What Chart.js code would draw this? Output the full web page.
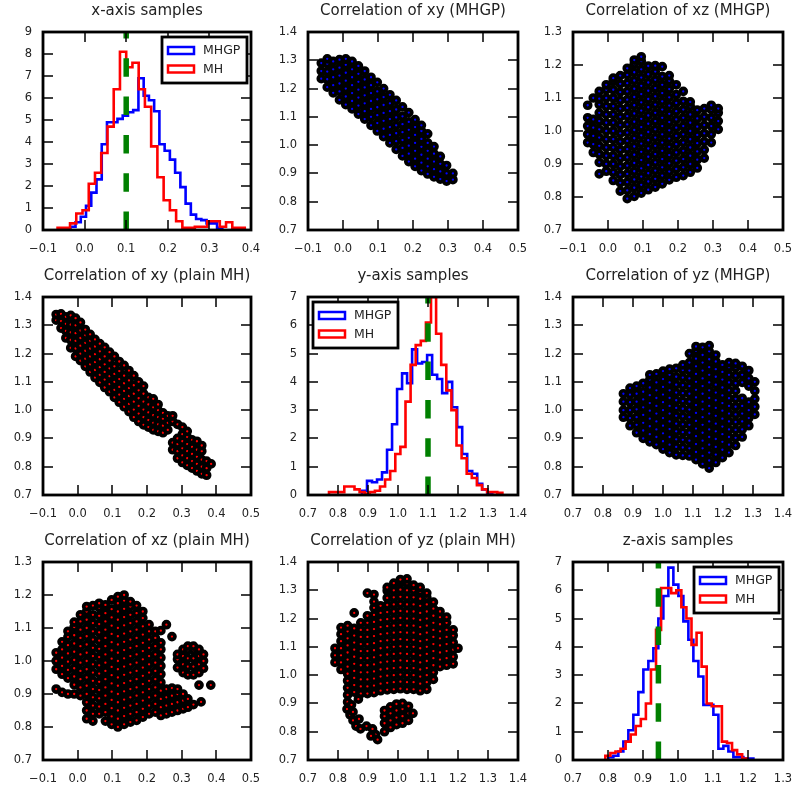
<!DOCTYPE html>
<html><head><meta charset="utf-8">
<script src="https://cdn.jsdelivr.net/npm/chart.js@4.4.0/dist/chart.umd.min.js"></script>
<style>html,body{margin:0;padding:0;background:#fff;width:792px;height:793px;overflow:hidden;position:relative}.p{position:absolute}</style>
</head><body>
<script>
// ---------------- tick values ----------------
const ticksXHist = [-0.1, 0.0, 0.1, 0.2, 0.3, 0.4];
const ticksXVal = [-0.1, 0.0, 0.1, 0.2, 0.3, 0.4, 0.5];
const ticksYVal = [0.7, 0.8, 0.9, 1.0, 1.1, 1.2, 1.3, 1.4];
const ticksZVal = [0.7, 0.8, 0.9, 1.0, 1.1, 1.2, 1.3];
const ticksCount9 = [0, 1, 2, 3, 4, 5, 6, 7, 8, 9];
const ticksCount7 = [0, 1, 2, 3, 4, 5, 6, 7];

// ---------------- histograms (bin start, bin width, densities) ----------------
const xHistMHGP = [-0.047, 0.0126];
const xValsMHGP = [0.08,0.15,0.35,0.6,1.1,1.7,2.3,3.9,4.9,4.9,5.05,5.2,5.35,5.45,6.9,6.1,5.9,5.4,3.9,3.6,3.2,2.6,1.95,1.2,0.7,0.5,0.45,0.3,0.3,0.1];
const xHistMH = [-0.065, 0.015];
const xValsMH = [0.1,0.1,0.3,0.75,0.9,2.1,2.6,3.5,4.7,6.4,8.1,7.4,7.6,6.4,5.6,3.8,2.4,1.35,0.9,0.4,0.1,0.1,0.15,0.15,0.4,0.4,0.15,0.35,0.1,0.1];
const yHistMHGP = [0.88, 0.0167];
const yValsMHGP = [0.15,0.5,0.45,0.55,0.8,1.6,2.5,3.75,4.3,3.95,5.15,4.65,4.7,4.95,4.25,4.1,3.6,4.0,3.1,2.4,1.45,0.85,0.75,0.4,0.2,0.05];
const yHistMH = [0.77, 0.017];
const yValsMH = [0.1,0.1,0.1,0.3,0.3,0.2,0.1,0.05,0.1,0.15,0.3,0.55,0.85,1.45,1.7,3.3,4.6,5.3,5.45,6.1,7.0,5.7,4.6,3.7,3.0,1.75,1.3,0.75,0.6,0.35,0.2,0.1,0.1,0.08];
const zHistMHGP = [0.801, 0.01429];
const zValsMHGP = [0.1,0.15,0.3,0.65,1.05,1.6,2.4,3.2,3.5,3.95,5.0,5.8,6.8,6.2,5.8,4.9,4.25,3.5,2.95,1.95,1.95,1.6,0.4,0.5,0.3,0.1,0.1,0.05,0.05];
const zHistMH = [0.7924, 0.01448];
const zValsMH = [0.15,0.25,0.3,0.4,0.65,0.9,1.2,1.45,2.0,3.2,4.6,6.08,6.08,5.9,6.0,5.4,5.0,4.07,4.5,3.3,2.0,1.9,1.9,0.65,0.6,0.35,0.2,0.05];
const truthX = 0.1, truthY = 1.1, truthZ = 0.944;

// ---------------- scatter samples: [x, y1, y2, ...] columns ----------------
const xyMHGP = [
 [-0.062,1.235,1.262,1.29],
 [-0.045,1.205,1.233,1.26,1.288,1.305],
 [-0.028,1.185,1.212,1.24,1.268,1.296],
 [-0.01,1.16,1.19,1.218,1.246,1.274,1.302],
 [0.008,1.143,1.172,1.2,1.228,1.256,1.284,1.305],
 [0.026,1.128,1.156,1.184,1.212,1.24,1.268,1.296],
 [0.044,1.11,1.14,1.168,1.196,1.224,1.252,1.28],
 [0.062,1.092,1.12,1.148,1.176,1.204,1.232,1.262],
 [0.08,1.07,1.1,1.128,1.156,1.184,1.212,1.24],
 [0.098,1.05,1.078,1.106,1.134,1.162,1.19,1.222],
 [0.116,1.03,1.058,1.086,1.114,1.142,1.17,1.2],
 [0.134,1.008,1.036,1.064,1.092,1.12,1.148,1.178],
 [0.152,0.985,1.014,1.042,1.07,1.098,1.126,1.158],
 [0.17,0.962,0.99,1.018,1.046,1.074,1.102,1.135],
 [0.188,0.942,0.97,0.998,1.026,1.054,1.082,1.115],
 [0.206,0.925,0.952,0.98,1.008,1.036,1.064,1.09],
 [0.224,0.91,0.938,0.966,0.994,1.022,1.05,1.07],
 [0.242,0.898,0.925,0.952,0.98,1.008,1.04],
 [0.26,0.888,0.915,0.942,0.97,0.995],
 [0.278,0.88,0.907,0.934,0.96],
 [0.296,0.873,0.9,0.928],
 [0.314,0.878,0.9]
];
const xzMHGP = [
 [-0.058,0.965,0.99,1.015,1.04,1.078],
 [-0.042,0.935,0.96,0.985,1.01,1.035,1.1],
 [-0.025,0.87,0.905,0.93,0.955,0.98,1.005,1.03,1.055,1.08,1.098,1.12],
 [-0.005,0.878,0.9,0.925,0.95,0.975,1.0,1.025,1.05,1.075,1.1,1.125,1.14],
 [0.015,0.85,0.875,0.9,0.925,0.95,0.975,1.0,1.025,1.05,1.075,1.1,1.125,1.15,1.16],
 [0.035,0.818,0.843,0.868,0.893,0.918,0.943,0.968,0.993,1.018,1.043,1.068,1.093,1.118,1.143,1.168],
 [0.055,0.795,0.82,0.845,0.87,0.895,0.92,0.945,0.97,0.995,1.02,1.045,1.07,1.095,1.12,1.145,1.17,1.19],
 [0.075,0.802,0.828,0.853,0.878,0.903,0.928,0.953,0.978,1.003,1.028,1.053,1.078,1.103,1.128,1.153,1.178,1.203,1.215],
 [0.095,0.812,0.837,0.862,0.887,0.912,0.937,0.962,0.987,1.012,1.037,1.062,1.087,1.112,1.137,1.162,1.187,1.212,1.225],
 [0.115,0.822,0.847,0.872,0.897,0.922,0.947,0.972,0.997,1.022,1.047,1.072,1.097,1.122,1.147,1.172,1.197],
 [0.135,0.83,0.855,0.88,0.905,0.93,0.955,0.98,1.005,1.03,1.055,1.08,1.105,1.13,1.155,1.18,1.198],
 [0.155,0.84,0.865,0.89,0.915,0.94,0.965,0.99,1.015,1.04,1.065,1.09,1.115,1.14,1.165,1.195],
 [0.175,0.852,0.877,0.902,0.927,0.952,0.977,1.002,1.027,1.052,1.077,1.102,1.127,1.152,1.168],
 [0.195,0.86,0.885,0.91,0.935,0.96,0.985,1.01,1.035,1.06,1.085,1.11,1.14],
 [0.215,0.865,0.89,0.915,0.94,0.965,0.99,1.015,1.04,1.065,1.09,1.12],
 [0.235,0.875,0.9,0.925,0.95,0.975,1.0,1.025,1.05,1.075,1.088],
 [0.255,0.888,0.913,0.938,0.963,0.988,1.013,1.038,1.063],
 [0.275,0.918,0.943,0.968,0.993,1.018,1.043,1.068],
 [0.295,0.965,0.99,1.015,1.04,1.065,1.078],
 [0.315,1.005,1.03,1.055,1.068]
];
const xyMH = [
 [-0.062,1.318,1.338],
 [-0.048,1.29,1.315,1.34],
 [-0.034,1.255,1.28,1.305,1.33],
 [-0.02,1.22,1.248,1.275,1.302,1.335],
 [-0.006,1.19,1.218,1.245,1.272,1.3,1.325],
 [0.008,1.175,1.2,1.228,1.255,1.282,1.31],
 [0.022,1.155,1.182,1.21,1.238,1.265,1.285],
 [0.036,1.135,1.162,1.19,1.218,1.245,1.268],
 [0.05,1.115,1.142,1.17,1.198,1.225,1.25],
 [0.064,1.098,1.125,1.152,1.18,1.208,1.235],
 [0.078,1.08,1.108,1.135,1.162,1.19,1.222],
 [0.092,1.065,1.092,1.12,1.148,1.175,1.205],
 [0.106,1.045,1.072,1.1,1.128,1.155,1.19],
 [0.12,1.028,1.055,1.082,1.11,1.138,1.172],
 [0.134,1.012,1.04,1.068,1.095,1.122,1.158],
 [0.148,0.995,1.022,1.05,1.078,1.105,1.14],
 [0.162,0.975,1.002,1.03,1.058,1.088,1.122],
 [0.176,0.96,0.988,1.015,1.042,1.07,1.1],
 [0.19,0.948,0.975,1.002,1.03,1.058,1.085],
 [0.204,0.94,0.965,0.992,1.02,1.045],
 [0.218,0.93,0.955,0.982,1.01,1.04],
 [0.232,0.925,0.95,0.975,1.0,1.02],
 [0.246,0.92,0.945,0.97,0.99],
 [0.26,0.93,0.955,0.98],
 [0.274,0.86,0.885,0.96,0.98],
 [0.288,0.83,0.855,0.88,0.9,0.95],
 [0.302,0.815,0.84,0.865,0.89,0.915,0.94],
 [0.316,0.805,0.83,0.855,0.88,0.905,0.925],
 [0.33,0.795,0.82,0.845,0.87,0.895],
 [0.344,0.785,0.81,0.835,0.86,0.89],
 [0.358,0.775,0.8,0.825,0.855,0.875],
 [0.372,0.77,0.795,0.82],
 [0.385,0.81]
];
const yzMHGP = [
 [0.868,0.975,1.0,1.03,1.058],
 [0.89,0.945,0.972,1.0,1.028,1.055,1.078],
 [0.912,0.92,0.948,0.975,1.003,1.03,1.058,1.085],
 [0.934,0.9,0.928,0.955,0.983,1.01,1.038,1.065,1.095],
 [0.956,0.888,0.915,0.943,0.97,0.998,1.025,1.053,1.08,1.108,1.125],
 [0.978,0.878,0.905,0.932,0.96,0.988,1.015,1.043,1.07,1.098,1.128],
 [1.0,0.862,0.89,0.918,0.945,0.972,1.0,1.028,1.055,1.082,1.11,1.138],
 [1.022,0.85,0.878,0.905,0.933,0.96,0.988,1.015,1.043,1.07,1.098,1.125,1.145],
 [1.044,0.842,0.87,0.897,0.925,0.952,0.98,1.008,1.035,1.062,1.09,1.118,1.148],
 [1.066,0.84,0.868,0.895,0.922,0.95,0.978,1.005,1.032,1.06,1.088,1.115,1.142,1.16],
 [1.088,0.838,0.865,0.892,0.92,0.948,0.975,1.002,1.03,1.058,1.085,1.112,1.14,1.168,1.2],
 [1.11,0.825,0.852,0.88,0.908,0.935,0.962,0.99,1.018,1.045,1.072,1.1,1.128,1.155,1.182,1.21,1.225],
 [1.132,0.81,0.838,0.865,0.892,0.92,0.948,0.975,1.003,1.03,1.058,1.085,1.112,1.14,1.168,1.195,1.222],
 [1.154,0.795,0.822,0.85,0.878,0.905,0.932,0.96,0.988,1.015,1.043,1.07,1.098,1.125,1.152,1.18,1.208,1.228],
 [1.176,0.815,0.843,0.87,0.898,0.925,0.952,0.98,1.008,1.035,1.062,1.09,1.118,1.145,1.172,1.195],
 [1.198,0.832,0.86,0.888,0.915,0.942,0.97,0.998,1.025,1.052,1.08,1.108,1.135,1.16],
 [1.22,0.85,0.878,0.905,0.932,0.96,0.988,1.015,1.042,1.07,1.098,1.125,1.152,1.168],
 [1.242,0.875,0.902,0.93,0.958,0.985,1.012,1.04,1.068,1.095,1.122,1.15,1.165],
 [1.264,0.905,0.932,0.96,0.988,1.015,1.042,1.098,1.125,1.155],
 [1.286,0.945,0.972,1.0,1.028,1.085,1.112,1.14],
 [1.306,0.985,1.012,1.04,1.068,1.1]
];
const xzMH = [
 [-0.062,0.915,0.975,1.0,1.025],
 [-0.045,0.905,0.96,0.985,1.01,1.035,1.058],
 [-0.028,0.9,0.948,0.973,0.998,1.023,1.048,1.073,1.09],
 [-0.01,0.9,0.928,0.953,0.978,1.003,1.028,1.053,1.078,1.103,1.118],
 [0.008,0.895,0.92,0.945,0.97,0.995,1.02,1.045,1.07,1.095,1.12,1.14],
 [0.026,0.825,0.85,0.875,0.9,0.925,0.95,0.975,1.0,1.025,1.05,1.075,1.1,1.125,1.15,1.165],
 [0.044,0.818,0.84,0.865,0.89,0.915,0.94,0.965,0.99,1.015,1.04,1.065,1.09,1.115,1.14,1.168],
 [0.062,0.84,0.862,0.887,0.912,0.937,0.962,0.987,1.012,1.037,1.062,1.087,1.112,1.137,1.162,1.175],
 [0.08,0.818,0.845,0.87,0.895,0.92,0.945,0.97,0.995,1.02,1.045,1.07,1.095,1.12,1.145,1.17],
 [0.098,0.808,0.832,0.857,0.882,0.907,0.932,0.957,0.982,1.007,1.032,1.057,1.082,1.107,1.132,1.157,1.185],
 [0.116,0.8,0.825,0.85,0.875,0.9,0.925,0.95,0.975,1.0,1.025,1.05,1.075,1.1,1.125,1.15,1.175,1.195],
 [0.134,0.808,0.833,0.858,0.883,0.908,0.933,0.958,0.983,1.008,1.033,1.058,1.083,1.108,1.133,1.158,1.183,1.2],
 [0.152,0.815,0.84,0.865,0.89,0.915,0.94,0.965,0.99,1.015,1.04,1.065,1.09,1.115,1.14,1.165,1.18],
 [0.17,0.82,0.845,0.87,0.895,0.92,0.945,0.97,0.995,1.02,1.045,1.07,1.095,1.12,1.145,1.168],
 [0.188,0.83,0.855,0.88,0.905,0.93,0.955,0.98,1.005,1.03,1.055,1.08,1.105,1.13,1.15],
 [0.206,0.84,0.865,0.89,0.915,0.94,0.965,0.99,1.015,1.04,1.065,1.09,1.11],
 [0.224,0.845,0.87,0.895,0.92,0.945,0.97,0.995,1.02,1.045,1.07,1.09],
 [0.24,0.835,0.86,0.885,0.91,0.935,0.96,0.985,1.01,1.035,1.055,1.092],
 [0.256,0.84,0.865,0.89,0.915,1.11],
 [0.272,0.845,0.87,0.895,0.918,1.074],
 [0.288,0.85,0.875,0.9,0.915,0.98,1.005,1.02],
 [0.304,0.855,0.88,0.9,0.965,0.99,1.015,1.035],
 [0.318,0.86,0.885,0.958,0.983,1.008,1.033,1.045],
 [0.334,0.868,0.958,0.983,1.008,1.033,1.045],
 [0.35,0.927,0.965,0.99,1.015,1.035],
 [0.356,0.876],
 [0.363,0.978,1.0,1.02],
 [0.384,0.927]
];
const yzMH = [
 [0.79,1.045,1.07,1.095],
 [0.81,1.02,1.045,1.07,1.095,1.12,1.145,1.168],
 [0.832,0.905,0.93,0.955,0.98,1.005,1.03,1.055,1.08,1.105,1.13,1.155,1.175],
 [0.854,0.94,0.965,0.99,1.015,1.04,1.065,1.09,1.115,1.14,1.165,1.22],
 [0.876,0.935,0.96,0.985,1.01,1.035,1.06,1.085,1.11,1.135,1.16,1.185],
 [0.898,0.935,0.96,0.985,1.01,1.035,1.06,1.085,1.11,1.135,1.16,1.185,1.21,1.29],
 [0.92,0.938,0.963,0.988,1.013,1.038,1.063,1.088,1.113,1.138,1.163,1.188,1.213,1.238,1.26,1.285],
 [0.942,0.945,0.97,0.995,1.02,1.045,1.07,1.095,1.12,1.145,1.17,1.195,1.22,1.245],
 [0.964,0.948,0.973,0.998,1.023,1.048,1.073,1.098,1.123,1.148,1.173,1.198,1.223,1.248,1.273,1.298,1.31],
 [0.986,0.95,0.975,1.0,1.025,1.05,1.075,1.1,1.125,1.15,1.175,1.2,1.225,1.25,1.275,1.3,1.325],
 [1.008,0.952,0.977,1.002,1.027,1.052,1.077,1.102,1.127,1.152,1.177,1.202,1.227,1.252,1.277,1.302,1.327,1.338],
 [1.03,0.95,0.975,1.0,1.025,1.05,1.075,1.1,1.125,1.15,1.175,1.2,1.225,1.25,1.275,1.3,1.325,1.34],
 [1.052,0.95,0.975,1.0,1.025,1.05,1.075,1.1,1.125,1.15,1.175,1.2,1.225,1.25,1.275,1.3,1.318],
 [1.074,0.945,0.97,0.995,1.02,1.045,1.07,1.095,1.12,1.145,1.17,1.195,1.22,1.245,1.27,1.295,1.31],
 [1.096,0.95,0.975,1.0,1.025,1.05,1.075,1.1,1.125,1.15,1.175,1.2,1.225,1.25,1.275,1.29],
 [1.118,0.985,1.01,1.035,1.06,1.085,1.11,1.135,1.16,1.185,1.21,1.235,1.258],
 [1.14,1.03,1.055,1.08,1.105,1.13,1.155,1.18,1.205,1.225],
 [1.162,1.035,1.06,1.085,1.11,1.135,1.16,1.185,1.205],
 [1.184,1.04,1.065,1.09,1.115,1.14,1.16],
 [1.2,1.095],
 [0.83,0.88],[0.84,0.86],[0.85,0.84],[0.86,0.82],[0.875,0.81],[0.895,0.82],[0.87,0.845],[0.85,0.87],[0.845,0.895],[0.868,0.915],
 [0.915,0.81],[0.925,0.79],[0.932,0.772],[0.91,0.785],
 [0.955,0.8,0.83,0.855,0.875],
 [0.975,0.815,0.84,0.865,0.888],
 [0.995,0.825,0.85,0.875,0.898],
 [1.015,0.83,0.855,0.88,0.9],
 [1.035,0.84,0.865,0.89],
 [1.05,0.865]
];

// ---------------- layout ----------------
const COLS = [[43,251],[308,518],[573,783]];
const ROWS = [[32,230],[297,495],[562,760]];
const PADL = 43, PADT = 32, PADR = 24, PADB = 30;
const BLUE = '#0000ff', RED = '#ff0000', GREEN = '#008000', TXT = '#222';
const FONT = '"DejaVu Sans", "Bitstream Vera Sans", sans-serif';

function fmt(decimals) {
  return v => { const s = Number(v).toFixed(decimals); return s.replace('-', '\u2212'); };
}
function cols2pts(cols) {
  const out = [];
  cols.forEach(c => { for (let i = 1; i < c.length; i++) out.push({x: c[0], y: c[i]}); });
  return out;
}
function histPts(spec, vals) {
  const [s, w] = spec;
  const pts = [{x: s, y: 0}];
  vals.forEach((v, i) => pts.push({x: s + i * w, y: v}));
  pts.push({x: s + vals.length * w, y: 0});
  return pts;
}

const framePlugin = {
  id: 'frame',
  afterDatasetsDraw(chart, args, opts) {
    const {ctx, chartArea: a, scales} = chart;
    ctx.save();
    ctx.strokeStyle = '#000';
    ctx.lineWidth = 1.5;
    ctx.beginPath();
    scales.x.ticks.forEach(t => {
      const px = Math.round(scales.x.getPixelForValue(t.value));
      ctx.moveTo(px, a.bottom); ctx.lineTo(px, a.bottom - 10);
      ctx.moveTo(px, a.top); ctx.lineTo(px, a.top + 10);
    });
    scales.y.ticks.forEach(t => {
      const py = Math.round(scales.y.getPixelForValue(t.value));
      ctx.moveTo(a.left, py); ctx.lineTo(a.left + 10, py);
      ctx.moveTo(a.right, py); ctx.lineTo(a.right - 10, py);
    });
    ctx.stroke();
    ctx.lineWidth = 2.8;
    ctx.strokeRect(a.left, a.top, a.right - a.left, a.bottom - a.top);
    ctx.restore();
  },
  afterDraw(chart, args, opts) {
    const {ctx, chartArea: a} = chart;
    ctx.save();
    ctx.fillStyle = TXT;
    ctx.font = '15px ' + FONT;
    ctx.textAlign = 'center';
    ctx.textBaseline = 'middle';
    ctx.fillText(opts.title, (a.left + a.right) / 2, 11);
    if (opts.legend) {
      const w = 85, h = 46;
      const bx = opts.legend === 'left' ? a.left + 5 : a.right - 4 - w;
      const by = a.top + 5;
      ctx.fillStyle = '#fff';
      ctx.fillRect(bx, by, w, h);
      ctx.lineWidth = 2.8;
      ctx.strokeStyle = '#000';
      ctx.strokeRect(bx, by, w, h);
      const items = [['MHGP', BLUE, 13.5], ['MH', RED, 32]];
      ctx.font = '12.5px ' + FONT;
      ctx.textAlign = 'left';
      items.forEach(([lab, col, dy]) => {
        ctx.strokeStyle = col;
        ctx.lineWidth = 2.5;
        ctx.strokeRect(bx + 6, by + dy - 3.5, 26, 7);
        ctx.fillStyle = TXT;
        ctx.fillText(lab, bx + 41, by + dy + 0.5);
      });
    }
    ctx.restore();
  }
};

function axis(min, max, ticks, decimals, isX) {
  return {
    type: 'linear', position: isX ? 'bottom' : 'left', min, max,
    grid: {display: false, drawTicks: false}, border: {display: false},
    afterBuildTicks: s => { s.ticks = ticks.map(v => ({value: v})); },
    afterFit: s => { if (isX) s.height = PADB; else s.width = PADL; },
    ticks: {
      autoSkip: false, maxRotation: 0, minRotation: 0, padding: isX ? 12 : 11,
      color: TXT, font: {family: FONT, size: 11.5},
      callback: fmt(decimals)
    }
  };
}

function panel(row, col, title, type, datasets, xr, yr, legend) {
  const [L, R] = COLS[col], [T, B] = ROWS[row];
  const W = R - L + PADL + PADR, H = B - T + PADT + PADB;
  const div = document.createElement('div');
  div.className = 'p';
  div.style.left = (L - PADL) + 'px'; div.style.top = (T - PADT) + 'px';
  div.style.width = W + 'px'; div.style.height = H + 'px';
  const cv = document.createElement('canvas');
  cv.width = W; cv.height = H; cv.style.width = W + 'px'; cv.style.height = H + 'px';
  div.appendChild(cv); document.body.appendChild(div);
  new Chart(cv, {
    type,
    data: {datasets},
    options: {
      responsive: false, animation: false, devicePixelRatio: 1,
      layout: {padding: {left: 0, top: PADT, right: PADR, bottom: 0}},
      scales: {x: axis(xr[0], xr[1], xr[2], xr[3], true), y: axis(yr[0], yr[1], yr[2], yr[3], false)},
      plugins: {legend: {display: false}, tooltip: {enabled: false}, title: {display: false},
                frame: {title, legend}},
      events: []
    },
    plugins: [framePlugin]
  });
}

function histSets(specGP, valsGP, specMH, valsMH, truth, ymax) {
  const base = {stepped: 'before', pointRadius: 0, fill: false, borderWidth: 2.6, borderJoinStyle: 'miter', tension: 0};
  return [
    Object.assign({label: 'MHGP', data: histPts(specGP, valsGP), borderColor: BLUE, order: 3}, base),
    Object.assign({label: 'MH', data: histPts(specMH, valsMH), borderColor: RED, order: 2}, base),
    {label: 'truth', data: [{x: truth, y: 0}, {x: truth, y: ymax}], borderColor: GREEN, borderWidth: 5.5,
     borderDash: [18.5, 19.8], borderCapStyle: 'butt', pointRadius: 0, fill: false, order: 1}
  ];
}
function scatterSet(cols, color) {
  return [{data: cols2pts(cols), backgroundColor: color, borderColor: '#000', pointRadius: 3.0, borderWidth: 3.7, pointHoverRadius: 3.0}];
}

const XR = [-0.1, 0.5, ticksXVal, 1];
const YR = [0.7, 1.4, ticksYVal, 1];
const ZR = [0.7, 1.3, ticksZVal, 1];

panel(0, 0, 'x-axis samples', 'line', histSets(xHistMHGP, xValsMHGP, xHistMH, xValsMH, truthX, 9),
      [-0.1, 0.4, ticksXHist, 1], [0, 9, ticksCount9, 0], 'right');
panel(0, 1, 'Correlation of xy (MHGP)', 'scatter', scatterSet(xyMHGP, BLUE), XR, YR);
panel(0, 2, 'Correlation of xz (MHGP)', 'scatter', scatterSet(xzMHGP, BLUE), XR, ZR);
panel(1, 0, 'Correlation of xy (plain MH)', 'scatter', scatterSet(xyMH, RED), XR, YR);
panel(1, 1, 'y-axis samples', 'line', histSets(yHistMHGP, yValsMHGP, yHistMH, yValsMH, truthY, 7),
      [0.7, 1.4, ticksYVal, 1], [0, 7, ticksCount7, 0], 'left');
panel(1, 2, 'Correlation of yz (MHGP)', 'scatter', scatterSet(yzMHGP, BLUE), YR, YR);
panel(2, 0, 'Correlation of xz (plain MH)', 'scatter', scatterSet(xzMH, RED), XR, ZR);
panel(2, 1, 'Correlation of yz (plain MH)', 'scatter', scatterSet(yzMH, RED), YR, YR);
panel(2, 2, 'z-axis samples', 'line', histSets(zHistMHGP, zValsMHGP, zHistMH, zValsMH, truthZ, 7),
      [0.7, 1.3, ticksZVal, 1], [0, 7, ticksCount7, 0], 'right');
</script>
</body></html>
